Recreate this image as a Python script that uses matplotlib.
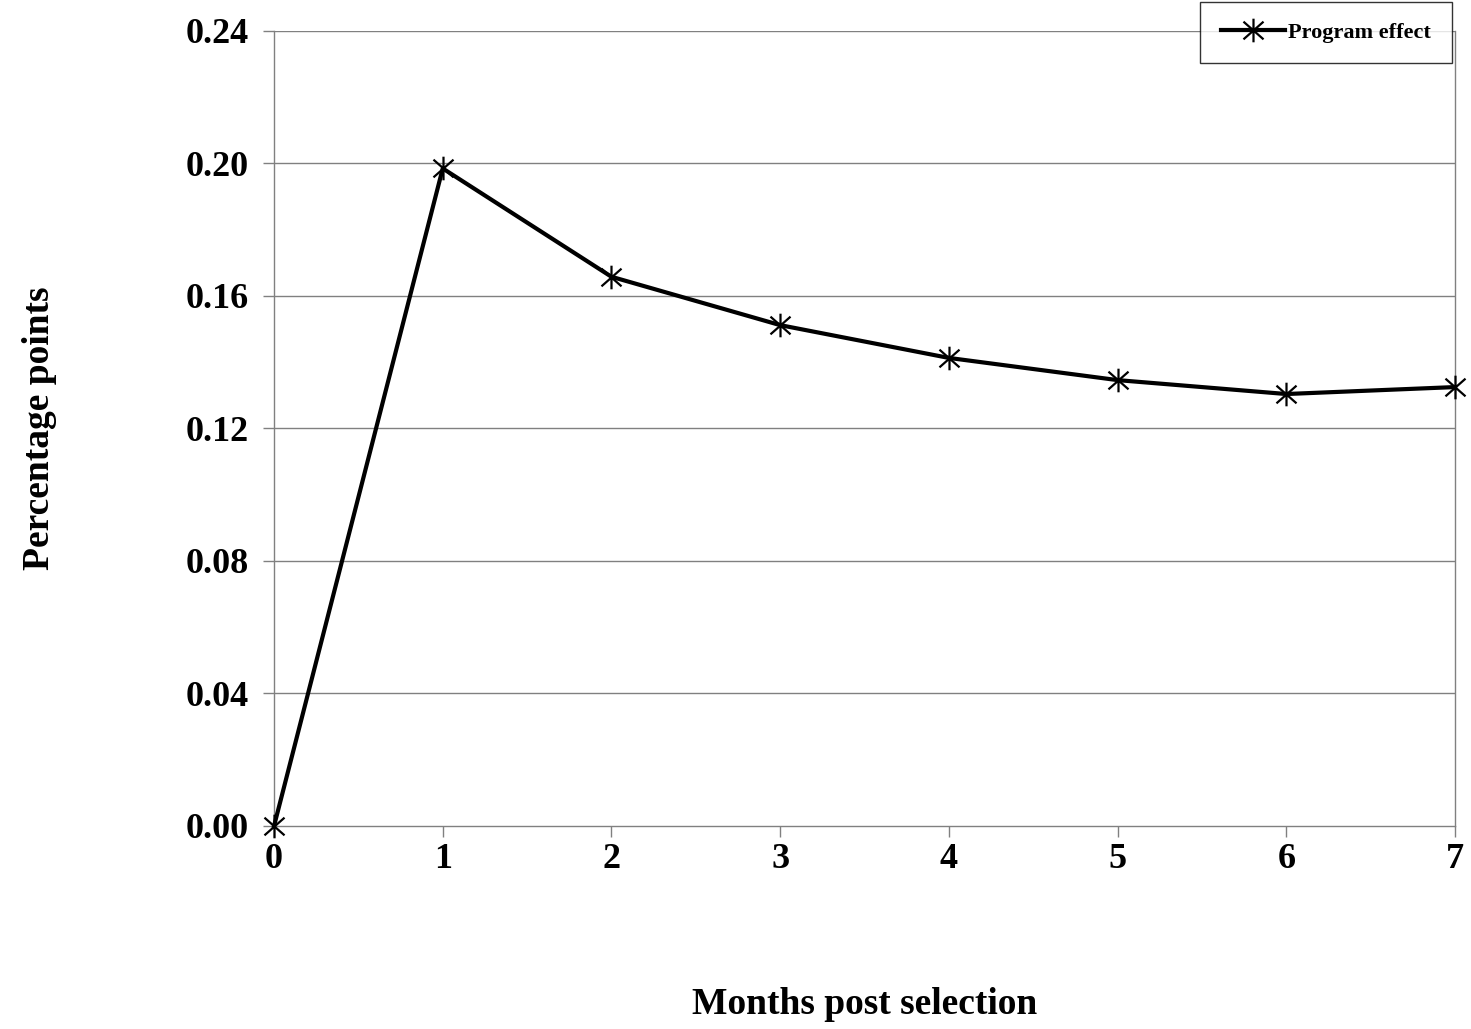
import matplotlib
matplotlib.use("Agg")
import matplotlib.pyplot as plt
from matplotlib.path import Path

months = [0, 1, 2, 3, 4, 5, 6, 7]
effect = [0.0, 0.1985, 0.1658, 0.1512, 0.1413, 0.1346, 0.1304, 0.1325]
y_ticks = [0.00, 0.04, 0.08, 0.12, 0.16, 0.20, 0.24]
y_tick_labels = ["0.00", "0.04", "0.08", "0.12", "0.16", "0.20", "0.24"]

plt.rcParams["font.family"] = ["Liberation Serif", "DejaVu Serif"]
plt.rcParams["font.weight"] = "bold"

# star marker: a vertical stroke plus an X
star = Path(
    [(0, -1), (0, 1), (-0.85, -0.75), (0.85, 0.75), (-0.85, 0.75), (0.85, -0.75)],
    [Path.MOVETO, Path.LINETO, Path.MOVETO, Path.LINETO, Path.MOVETO, Path.LINETO],
)

fig = plt.figure(figsize=(14.71, 10.29), dpi=100)
ax = fig.add_axes([0.1863, 0.1973, 0.8028, 0.7726])

for y in y_ticks[1:]:
    ax.axhline(y, color="#808080", lw=1.0, zorder=1)

ax.plot(months, effect, color="black", lw=3.0, marker=star, markersize=17,
        markeredgewidth=1.6, markerfacecolor="none", markeredgecolor="black",
        label="Program effect", zorder=3, clip_on=False)

ax.set_xlim(0, 7)
ax.set_ylim(0, 0.24)
ax.set_xticks(months)
ax.set_xticklabels([str(m) for m in months], fontsize=26, fontweight="bold")
ax.set_yticks(y_ticks)
ax.set_yticklabels(y_tick_labels, fontsize=26, fontweight="bold")
ax.tick_params(axis="both", direction="out", length=8, width=1.0, color="#808080")
ax.tick_params(axis="x", pad=4)
ax.tick_params(axis="y", pad=10)

for side in ["left", "bottom", "right"]:
    ax.spines[side].set_color("#808080")
    ax.spines[side].set_linewidth(1.0)
ax.spines["top"].set_visible(False)

ax.set_xlabel("Months post selection", fontsize=27, fontweight="bold", labelpad=0)
ax.xaxis.set_label_coords(0.5, -0.203)
ax.set_ylabel("Percentage points", fontsize=27, fontweight="bold")
ax.yaxis.set_label_coords(-0.184, 0.5)

leg = ax.legend(loc="upper right", bbox_to_anchor=(0.9975, 1.037), fontsize=16,
                frameon=True, fancybox=False, edgecolor="black", borderpad=0.93,
                handlelength=2.9, handletextpad=0.15, borderaxespad=0)
leg.get_frame().set_linewidth(1.0)
leg.set_zorder(5)

fig.savefig("out.png", dpi=100, facecolor="white")
